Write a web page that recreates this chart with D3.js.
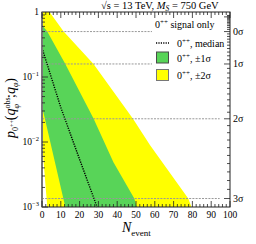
<!DOCTYPE html>
<html>
<head>
<meta charset="utf-8">
<style>
  body { margin: 0; background: #fff; }
  text { font-family: "Liberation Serif", "DejaVu Serif", serif; fill: #000; }
</style>
</head>
<body>
<svg width="256" height="244"></svg>
<script src="https://d3js.org/d3.v7.min.js"></script>
<script>
// edges of the bands (N_event, p-value)
var medianN = [0, 10, 20, 29.3],
    medianP = [0.28, 0.034, 0.0054, 0.001];
var greenHiN = [0, 2.8, 12.4, 27.4, 38, 49.1, 50.4],
    greenHiP = [0.63, 0.5, 0.158, 0.0229, 0.0049, 0.00135, 0.001];
var greenLoN = [0, 12.4],
    greenLoP = [0.0355, 0.001];
var yellowHiN = [0, 4, 11.5, 27.4, 48.3, 57.5, 77.8, 79.5],
    yellowHiP = [1, 1, 0.5, 0.158, 0.0229, 0.0089, 0.00135, 0.001];
var yellowLoN = [0, 2.8],
    yellowLoP = [0.01, 0.001];

var sigmaLabels = ["0σ", "1σ", "2σ", "3σ"],
    sigmaP = [0.5, 0.1587, 0.02275, 0.00135];
var xTicks = [0, 10, 20, 30, 40, 50, 60, 70, 80, 90, 100];
var yTicks = [1, 0.1, 0.01, 0.001],
    yTickExp = ["", "−1", "−2", "−3"];

var svg = d3.select("svg"),
    pl = 42, pr = 230, pt = 12, pb = 207;

var x = d3.scaleLinear().domain([0, 100]).range([pl, pr]),
    y = d3.scaleLog().domain([0.001, 1]).range([pb, pt]);

var line = d3.line()
    .x(function (d) { return x(d[0]); })
    .y(function (d) { return y(d[1]); });

function pts(ns, ps) { return ns.map(function (n, i) { return [n, ps[i]]; }); }

// bands
var yellow = pts(yellowHiN, yellowHiP).concat(pts(yellowLoN, yellowLoP).reverse());
var green = pts(greenHiN, greenHiP).concat(pts(greenLoN, greenLoP).reverse());

svg.append("path").attr("d", line(yellow) + "Z").attr("fill", "#ffff00");
svg.append("path").attr("d", line(green) + "Z").attr("fill", "#58d458");

// sigma lines
svg.selectAll(".sig").data(sigmaP).enter().append("line")
    .attr("x1", x(0)).attr("x2", x(94.5))
    .attr("y1", function (d) { return y(d); })
    .attr("y2", function (d) { return y(d); })
    .attr("stroke", "#999").attr("stroke-width", 1)
    .attr("stroke-dasharray", "2,1.2");

// median
svg.append("path")
    .attr("d", line(pts(medianN, medianP)))
    .attr("fill", "none").attr("stroke", "#000")
    .attr("stroke-width", 1.4).attr("stroke-dasharray", "1.2,1.2");

// legend
svg.append("rect").attr("x", 152).attr("y", 18).attr("width", 76).attr("height", 67).attr("fill", "#fff");
var lx = 177;
function sup(t, base, s, rest) {
    t.append("tspan").text(base);
    t.append("tspan").attr("dy", -4).style("font-size", "7px").text(s);
    t.append("tspan").attr("dy", 4).text(rest);
}
var t0 = svg.append("text").attr("x", 155).attr("y", 28).style("font-size", "10px");
sup(t0, "0", "++", " signal only");
svg.append("line").attr("x1", 156).attr("x2", 169).attr("y1", 43).attr("y2", 43)
    .attr("stroke", "#000").attr("stroke-width", 1.4).attr("stroke-dasharray", "1.2,1.2");
sup(svg.append("text").attr("x", lx).attr("y", 46.5).style("font-size", "10px"), "0", "++", ", median");
svg.append("rect").attr("x", 156.5).attr("y", 52).attr("width", 12).attr("height", 11)
    .attr("fill", "#58d458").attr("stroke", "#4a4a4a");
sup(svg.append("text").attr("x", lx).attr("y", 62).style("font-size", "10px"), "0", "++", ", ±1σ");
svg.append("rect").attr("x", 156.5).attr("y", 69.5).attr("width", 12).attr("height", 11)
    .attr("fill", "#ffff00").attr("stroke", "#777");
sup(svg.append("text").attr("x", lx).attr("y", 79).style("font-size", "10px"), "0", "++", ", ±2σ");

// frame
svg.append("rect").attr("x", pl).attr("y", pt).attr("width", pr - pl).attr("height", pb - pt)
    .attr("fill", "none").attr("stroke", "#222").attr("stroke-width", 1);
svg.append("line").attr("x1", pl).attr("x2", pl).attr("y1", pt).attr("y2", pb)
    .attr("stroke", "#777").attr("stroke-width", 2);

// x ticks (bottom and top, pointing inward)
var xMinor = d3.range(0, 101, 2);
var tk = svg.append("g").attr("stroke", "#222").attr("stroke-width", 0.8);
xMinor.forEach(function (v) {
    var len = v % 10 === 0 ? 6 : 3;
    tk.append("line").attr("x1", x(v)).attr("x2", x(v)).attr("y1", pb).attr("y2", pb - len);
    tk.append("line").attr("x1", x(v)).attr("x2", x(v)).attr("y1", pt).attr("y2", pt + len);
});
svg.selectAll(".xl").data(xTicks).enter().append("text")
    .attr("x", function (d) { return x(d); }).attr("y", 218)
    .attr("text-anchor", "middle").style("font-size", "9.5px")
    .text(function (d) { return d; });

// y ticks (log)
[0.001, 0.01, 0.1].forEach(function (dec) {
    for (var m = 1; m < 10; m++) {
        var v = dec * m, len = m === 1 ? 6 : 3;
        tk.append("line").attr("x1", pl).attr("x2", pl + len).attr("y1", y(v)).attr("y2", y(v));
    }
});
yTicks.forEach(function (v, i) {
    var t = svg.append("text").attr("x", 39).attr("y", y(v) + 3)
        .attr("text-anchor", "end").style("font-size", "9.5px");
    if (yTickExp[i] === "") { t.text("1"); return; }
    t.append("tspan").text("10");
    t.append("tspan").attr("dy", -4).style("font-size", "6.5px").text(yTickExp[i]);
});

// right sigma axis
function erfc(z) {
    var t = 1 / (1 + 0.3275911 * Math.abs(z));
    var r = t * (0.254829592 + t * (-0.284496736 + t * (1.421413741 + t * (-1.453152027 + t * 1.061405429)))) * Math.exp(-z * z);
    return z >= 0 ? r : 2 - r;
}
d3.range(-12, 31).forEach(function (k) {
    var s = k / 10, p = 0.5 * erfc(s / Math.SQRT2);
    if (p > 1) return;
    var len = k % 10 === 0 ? 6 : 3;
    tk.append("line").attr("x1", pr).attr("x2", pr - len).attr("y1", y(p)).attr("y2", y(p));
});
sigmaP.forEach(function (p, i) {
    svg.append("text").attr("x", 233).attr("y", y(p) + 3.5).style("font-size", "10px").text(sigmaLabels[i]);
});

// title
var tt = svg.append("text").attr("x", 101).attr("y", 9).style("font-size", "10.5px");
tt.append("tspan").text("√s = 13 TeV, ");
tt.append("tspan").style("font-style", "italic").text("M");
tt.append("tspan").attr("dy", 2).style("font-size", "7.5px").style("font-style", "italic").text("S");
tt.append("tspan").attr("dy", -2).text(" = 750 GeV");

// x title
var xt = svg.append("text").attr("x", 122).attr("y", 232).style("font-size", "14px");
xt.append("tspan").style("font-style", "italic").text("N");
xt.append("tspan").attr("dy", 4).style("font-size", "9px").text("event");

// y title
var yt = svg.append("text").attr("transform", "translate(15,108) rotate(-90)")
    .attr("text-anchor", "middle").style("font-size", "14px");
yt.append("tspan").style("font-style", "italic").text("p");
yt.append("tspan").attr("dy", 3).style("font-size", "8px").text("0");
yt.append("tspan").attr("dy", -4).style("font-size", "6px").text("++");
yt.append("tspan").attr("dy", 1).text("(");
yt.append("tspan").style("font-style", "italic").text("q");
yt.append("tspan").attr("dy", -5).style("font-size", "8px").text("obs");
yt.append("tspan").attr("dx", -11).attr("dy", 9).style("font-size", "8px").style("font-style", "italic").text("φ");
yt.append("tspan").attr("dx", 6).attr("dy", -4).text(";");
yt.append("tspan").style("font-style", "italic").text("q");
yt.append("tspan").attr("dy", 3).style("font-size", "8px").style("font-style", "italic").text("φ");
yt.append("tspan").attr("dy", -3).text(")");
</script>
</body>
</html>
